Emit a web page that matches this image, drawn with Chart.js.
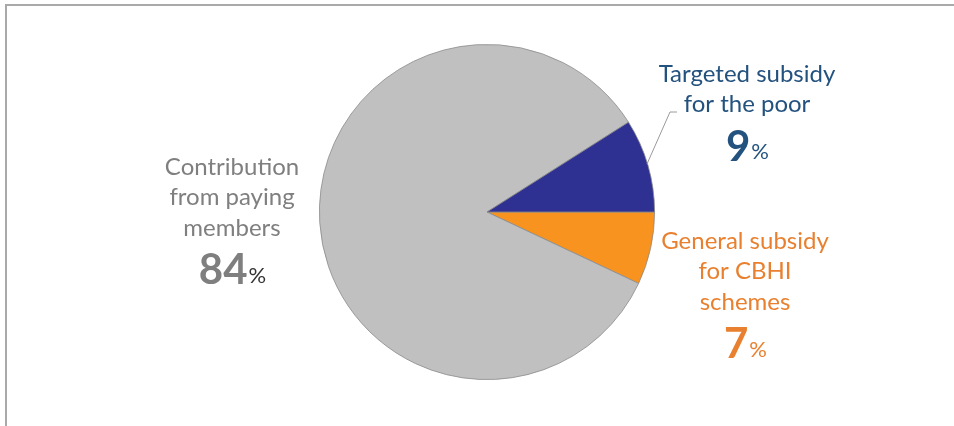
<!DOCTYPE html>
<html>
<head>
<meta charset="utf-8">
<script src="https://cdn.jsdelivr.net/npm/chart.js@4.4.1/dist/chart.umd.min.js"></script>
<style>
  html, body { margin: 0; padding: 0; background: #fff; }
  #wrap { position: relative; width: 954px; height: 426px; }
  #wrap:before { content: ""; position: absolute; left: 5px; top: 4px; right: 0; bottom: 0;
    border-top: 2px solid #a9a9a9; border-left: 2px solid #a9a9a9; }
</style>
</head>
<body>
<div id="wrap"><canvas id="pieChart" width="954" height="426"></canvas></div>
<script>
// order: clockwise starting at 3 o'clock
const sliceNames = ["General subsidy for CBHI schemes", "Contribution from paying members", "Targeted subsidy for the poor"];
const sliceValues = [7, 84, 9];
const sliceColors = ["#f7931e", "#c0c0c0", "#2e3192"];
const labelLines = [["General subsidy", "for CBHI", "schemes"], ["Contribution", "from paying", "members"], ["Targeted subsidy", "for the poor"]];
const labelColors = ["#e8802f", "#7f7f7f", "#24527f"];

// where each label block sits (centre x, first line y)
const labelPos = [[745, 241], [232, 167], [747, 74]];

const fontName = "Lato, 'Open Sans', sans-serif";

const labelPlugin = {
    id: "sliceLabels",
    afterDraw(chart) {
        const ctx = chart.ctx;
        ctx.save();
        ctx.textBaseline = "middle";
        ctx.textAlign = "center";
        for (let i = 0; i < sliceValues.length; i++) {
            const [x, y0] = labelPos[i];
            ctx.fillStyle = labelColors[i];
            ctx.font = "24px " + fontName;
            let y = y0;
            for (const line of labelLines[i]) {
                ctx.fillText(line, x, y);
                y += 30.5;
            }
            // value: big number + small percent sign
            const num = String(sliceValues[i]);
            ctx.font = "bold 42px " + fontName;
            const nw = ctx.measureText(num).width;
            ctx.font = "22px " + fontName;
            const pw = ctx.measureText("%").width;
            const startX = x - (nw + pw) / 2;
            const vy = y + 12;
            ctx.textAlign = "left";
            ctx.font = "bold 42px " + fontName;
            ctx.fillText(num, startX, vy);
            ctx.font = "22px " + fontName;
            ctx.fillStyle = i === 1 ? "#333333" : labelColors[i];
            ctx.fillText("%", startX + nw + 1, vy + 5);
            ctx.textAlign = "center";
        }
        // leader line for the small blue slice
        ctx.strokeStyle = "#9a9a9a";
        ctx.lineWidth = 1;
        ctx.beginPath();
        ctx.moveTo(647, 164);
        ctx.lineTo(670, 112);
        ctx.lineTo(677, 112);
        ctx.stroke();
        ctx.restore();
    }
};

new Chart(document.getElementById("pieChart").getContext("2d"), {
    type: "pie",
    data: {
        labels: sliceNames,
        datasets: [{
            data: sliceValues,
            backgroundColor: sliceColors,
            borderColor: "#8a8a8a",
            borderWidth: 0.8
        }]
    },
    options: {
        responsive: false,
        animation: false,
        rotation: 90,
        layout: { padding: { left: 319, right: 299, top: 44, bottom: 46 } },
        plugins: {
            legend: { display: false },
            tooltip: { enabled: false }
        }
    },
    plugins: [labelPlugin]
});
</script>
</body>
</html>
